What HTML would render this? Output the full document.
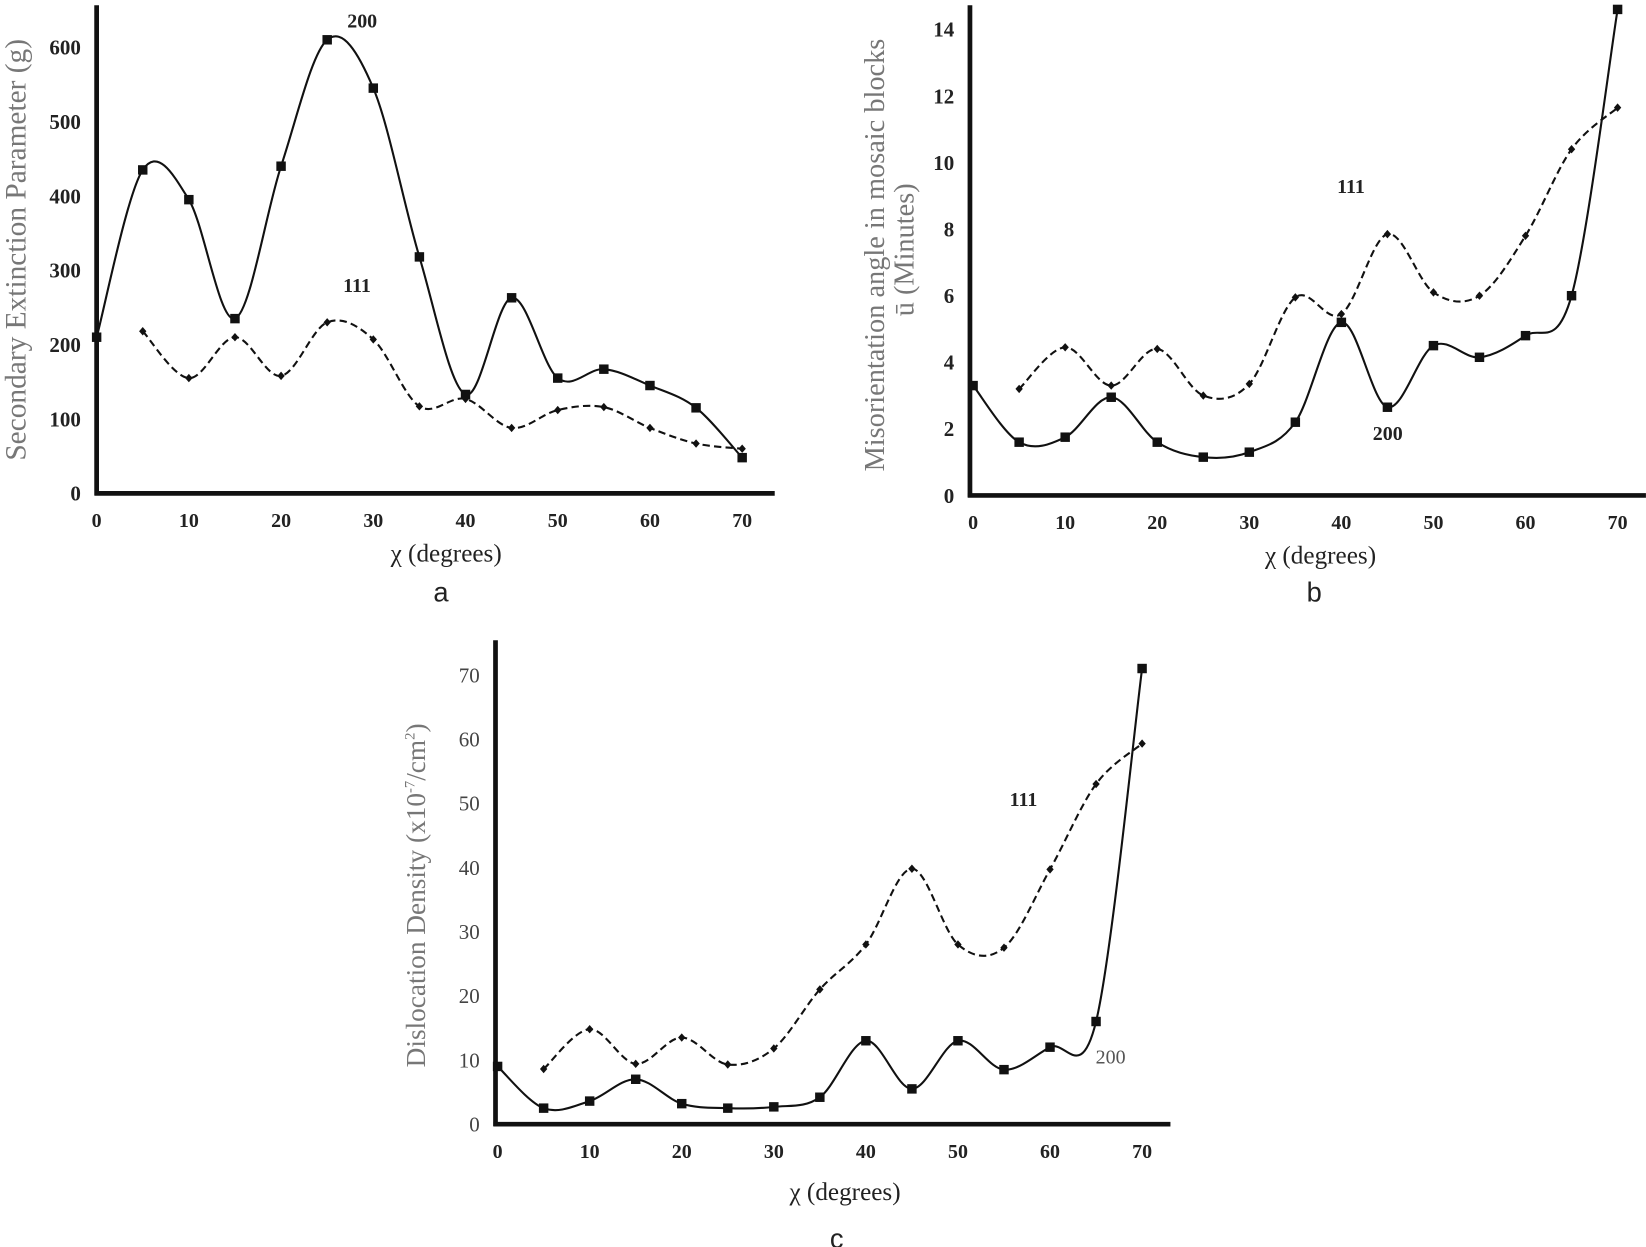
<!DOCTYPE html>
<html><head><meta charset="utf-8"><style>
html,body{margin:0;padding:0;background:#fff;}
svg{display:block;}
text{font-family:"Liberation Serif",serif;}
</style></head><body>
<svg id="fig" width="1646" height="1247" viewBox="0 0 1568 1188" xmlns="http://www.w3.org/2000/svg"></svg>
<script>
const xCats=[0,5,10,15,20,25,30,35,40,45,50,55,60,65,70];
const xTicks=[0,10,20,30,40,50,60,70];
// chart a
const a200=[210,435,395,235,440,610,545,318,133,263,155,167,145,115,48];
const a111=[null,218,155,210,158,230,207,117,127,88,112,116,88,67,60];
const aTicks=[0,100,200,300,400,500,600];
// chart b
const b200=[3.3,1.6,1.75,2.95,1.6,1.15,1.3,2.2,5.2,2.65,4.5,4.15,4.8,6.0,14.6];
const b111=[null,3.2,4.45,3.3,4.4,3.0,3.35,5.95,5.45,7.85,6.1,6.0,7.8,10.4,11.65];
const bTicks=[0,2,4,6,8,10,12,14];
// chart c
const c200=[9,2.5,3.6,7,3.2,2.5,2.7,4.2,13,5.5,13,8.5,12,16,71];
const c111=[null,8.6,14.8,9.4,13.5,9.3,11.8,21,28,39.8,28,27.5,39.7,53,59.3];
const cTicks=[0,10,20,30,40,50,60,70];

const NS="http://www.w3.org/2000/svg";
const svg=document.getElementById('fig');
function el(tag,attrs,parent){const e=document.createElementNS(NS,tag);for(const k in attrs)e.setAttribute(k,attrs[k]);(parent||svg).appendChild(e);return e;}
function txt(s,attrs,parent){const t=el('text',attrs,parent);t.textContent=s;return t;}
function smooth(pts){
  let d='M'+pts[0][0]+','+pts[0][1];
  for(let i=0;i<pts.length-1;i++){
    const p0=pts[i-1]||pts[i],p1=pts[i],p2=pts[i+1],p3=pts[i+2]||p2;
    const t=1/6;
    const c1=[p1[0]+(p2[0]-p0[0])*t,p1[1]+(p2[1]-p0[1])*t];
    const c2=[p2[0]-(p3[0]-p1[0])*t,p2[1]-(p3[1]-p1[1])*t];
    d+=' C'+c1[0]+','+c1[1]+' '+c2[0]+','+c2[1]+' '+p2[0]+','+p2[1];
  }
  return d;
}
function chart(cfg){
  const g=el('g',{});
  
  
  const sx=v=>cfg.x0+(cfg.x70-cfg.x0)*v/70;
  const sy=v=>cfg.y0+(cfg.yTop-cfg.y0)*v/cfg.yTopVal;
  const ya=el('line',{x1:cfg.ax,y1:cfg.axTop,x2:cfg.ax,y2:cfg.y0+2,stroke:'#111','stroke-width':4.5},g);
  
  const xa=el('line',{x1:cfg.ax-2,y1:cfg.y0,x2:cfg.axRight,y2:cfg.y0,stroke:'#111','stroke-width':4.5},g);
  
  cfg.yTicks.forEach(v=>{
    const t=txt(String(v),{x:cfg.ax-15,y:sy(v)+7,'text-anchor':'end','font-size':20,'font-weight':cfg.boldY?'bold':'normal',fill:cfg.boldY?'#222':'#444'},g);
    
  });
  xTicks.forEach(v=>{
    const t=txt(String(v),{x:sx(v),y:cfg.y0+32,'text-anchor':'middle','font-size':19,'font-weight':'bold',fill:'#222'},g);
    
  });
  const p111=[];cfg.s111.forEach((v,i)=>{if(v!==null)p111.push([sx(xCats[i]),sy(v)]);});
  const l1=el('path',{d:smooth(p111),fill:'none',stroke:'#111','stroke-width':2,'stroke-dasharray':'7,4'},g);
  
  p111.forEach(p=>{const m=el('path',{d:`M${p[0]},${p[1]-4} L${p[0]+3.5},${p[1]} L${p[0]},${p[1]+4} L${p[0]-3.5},${p[1]} Z`,fill:'#111'},g);
    });
  const p200=cfg.s200.map((v,i)=>[sx(xCats[i]),sy(v)]);
  const l2=el('path',{d:smooth(p200),fill:'none',stroke:'#111','stroke-width':2},g);
  
  p200.forEach(p=>{const m=el('rect',{x:p[0]-4.5,y:p[1]-4.5,width:9,height:9,fill:'#111'},g);
    });
  return {g,sx,sy};
}
let A=chart({name:'chart-a',ax:92,axTop:5,axRight:738,x0:92,x70:707,y0:470,yTop:45,yTopVal:600,yTicks:aTicks,boldY:true,s200:a200,s111:a111});
let t;
t=txt('200',{x:345,y:26,'text-anchor':'middle','font-size':19,'font-weight':'bold',fill:'#222'},A.g);
t=txt('111',{x:340,y:278,'text-anchor':'middle','font-size':19,'font-weight':'bold',fill:'#222'},A.g);
t=txt('Secondary Extinction Parameter (g)',{x:0,y:0,transform:'translate(24,238) rotate(-90)','text-anchor':'middle','font-size':28,fill:'#777'},A.g);
t=txt('χ (degrees)',{x:425,y:535,'text-anchor':'middle','font-size':24,fill:'#222'},A.g);
t=txt('a',{x:420,y:573,'text-anchor':'middle','font-size':26,fill:'#222',style:'font-family:"Liberation Sans",sans-serif'},A.g);
let B=chart({name:'chart-b',ax:924,axTop:5,axRight:1568,x0:927,x70:1541,y0:472,yTop:28,yTopVal:14,yTicks:bTicks,boldY:true,s200:b200,s111:b111});
t=txt('111',{x:1287,y:184,'text-anchor':'middle','font-size':19,'font-weight':'bold',fill:'#222'},B.g);
t=txt('200',{x:1322,y:419,'text-anchor':'middle','font-size':19,'font-weight':'bold',fill:'#222'},B.g);
t=txt('Misorientation  angle in mosaic blocks',{x:0,y:0,transform:'translate(842,243) rotate(-90)','text-anchor':'middle','font-size':27,fill:'#777','xml:space':'preserve'},B.g);
t=txt('ū (Minutes)',{x:0,y:0,transform:'translate(870,238) rotate(-90)','text-anchor':'middle','font-size':27,fill:'#777'},B.g);
t=txt('χ (degrees)',{x:1258,y:537,'text-anchor':'middle','font-size':24,fill:'#222'},B.g);
t=txt('b',{x:1252,y:573,'text-anchor':'middle','font-size':26,fill:'#222',style:'font-family:"Liberation Sans",sans-serif'},B.g);
let C=chart({name:'chart-c',ax:472,axTop:610,axRight:1115,x0:474,x70:1088,y0:1071,yTop:643,yTopVal:70,yTicks:cTicks,boldY:false,s200:c200,s111:c111});
t=txt('111',{x:975,y:768,'text-anchor':'middle','font-size':19,'font-weight':'bold',fill:'#222'},C.g);
t=txt('200',{x:1058,y:1013,'text-anchor':'middle','font-size':19,fill:'#555'},C.g);
t=el('text',{x:0,y:0,transform:'translate(405,853) rotate(-90)','text-anchor':'middle','font-size':26,fill:'#777'},C.g);
t.innerHTML='Dislocation Density (x10<tspan dy="-10" font-size="14">-7</tspan><tspan dy="10">/cm</tspan><tspan dy="-10" font-size="14">2</tspan><tspan dy="10">)</tspan>';

t=txt('χ (degrees)',{x:805,y:1143,'text-anchor':'middle','font-size':24,fill:'#222'},C.g);
t=txt('c',{x:797,y:1189,'text-anchor':'middle','font-size':26,fill:'#222',style:'font-family:"Liberation Sans",sans-serif'},C.g);
</script>
</body></html>
